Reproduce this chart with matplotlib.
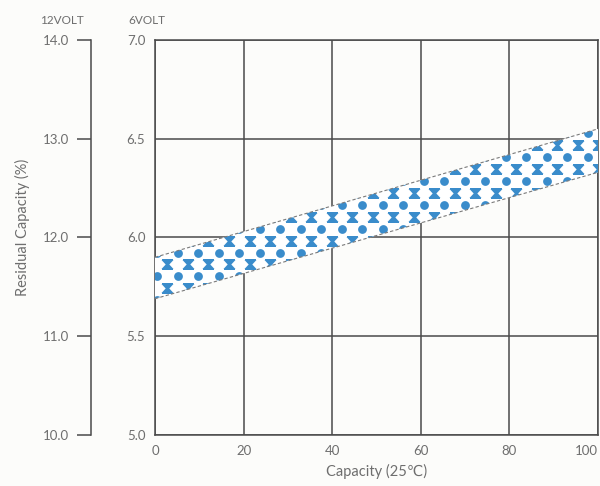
import matplotlib
matplotlib.use("Agg")
import matplotlib.pyplot as plt
import numpy as np
from matplotlib.path import Path

plt.rcParams["font.family"] = ["Lato", "DejaVu Sans"]

# band of residual voltage (6V scale) against capacity
capacity = [0, 100]
band_low = [5.69, 6.33]
band_high = [5.90, 6.55]

x_ticks = [0, 20, 40, 60, 80, 100]
y6_ticks = [5.0, 5.5, 6.0, 6.5, 7.0]
y12_ticks = [10.0, 11.0, 12.0, 13.0, 14.0]

TEXT = "#6e6e6e"
LINE = "#4a4a4a"
BLUE = "#3a8ccb"

fig = plt.figure(figsize=(6, 4.86), dpi=100)
fig.patch.set_facecolor("#fcfcfa")

ax = fig.add_axes([155 / 600, 1 - 435 / 486, 443 / 600, 395 / 486])
ax.set_facecolor("#fcfcfa")
ax.set_xlim(0, 100)
ax.set_ylim(5.0, 7.0)
ax.set_xticks(x_ticks)
ax.set_yticks(y6_ticks)
ax.set_yticklabels([f"{v:.1f}" for v in y6_ticks])
ax.grid(True, color=LINE, lw=1.1)
ax.tick_params(length=0, pad=7, labelsize=9.5, labelcolor=TEXT)
ax.get_xticklabels()[-1].set_horizontalalignment("right")
for sp in ax.spines.values():
    sp.set_color(LINE)
    sp.set_linewidth(1.1)

# band
poly = ax.fill_between(capacity, band_low, band_high, facecolor="white",
                       edgecolor="none", zorder=3)
ax.plot(capacity, band_low, color="#7a7a7a", lw=0.8, ls=(0, (3, 2)), zorder=5)
ax.plot(capacity, band_high, color="#7a7a7a", lw=0.8, ls=(0, (3, 2)), zorder=5)

# dot / hourglass pattern inside the band (horizontal rows, clipped)
hourglass = Path([(-1, 0.75), (1, 0.75), (0.3, 0), (1, -0.75), (-1, -0.75),
                  (-0.3, 0), (-1, 0.75)],
                 [Path.MOVETO] + [Path.LINETO] * 5 + [Path.CLOSEPOLY])
col_step = 4.63
row_step = 0.0606
rows = np.arange(5.924 - 8 * 2 * row_step, 6.7, 2 * row_step)
cols = np.arange(0.5, 104, col_step)
dx, dy = np.meshgrid(cols, rows)
xx, xy = np.meshgrid(cols + col_step / 2, rows - row_step)
dots = ax.scatter(dx.ravel(), dy.ravel(), s=40, color=BLUE, lw=0, zorder=4)
xs = ax.scatter(xx.ravel(), xy.ravel(), s=75, marker=hourglass, color=BLUE,
                lw=0, zorder=4)
for art in (dots, xs):
    art.set_clip_path(poly.get_paths()[0], ax.transData)

ax.set_xlabel("Capacity (25\u2103)", fontsize=10.5, color=TEXT, labelpad=5)

# 12V scale
ax2 = fig.add_axes([91 / 600, 1 - 435 / 486, 0.0001, 395 / 486])
ax2.set_ylim(10.0, 14.0)
ax2.set_yticks(y12_ticks)
ax2.set_yticklabels([f"{v:.1f}" for v in y12_ticks])
ax2.set_xticks([])
for name, sp in ax2.spines.items():
    sp.set_visible(name == "left")
ax2.spines["left"].set_color(LINE)
ax2.spines["left"].set_linewidth(1.1)
ax2.tick_params(axis="y", direction="out", length=10, width=1.1, color=LINE,
                pad=6, labelsize=9.5, labelcolor=TEXT)
ax2.patch.set_visible(False)

fig.text(40 / 600, 1 - 20 / 486, "12VOLT", fontsize=8.5, color=TEXT, va="center")
fig.text(128 / 600, 1 - 20 / 486, "6VOLT", fontsize=8.5, color=TEXT, va="center")
fig.text(22 / 600, 1 - 227 / 486, "Residual Capacity (%)", fontsize=10.5,
         color=TEXT, rotation=90, ha="center", va="center")

fig.savefig("out.png", dpi=100, facecolor=fig.get_facecolor())
